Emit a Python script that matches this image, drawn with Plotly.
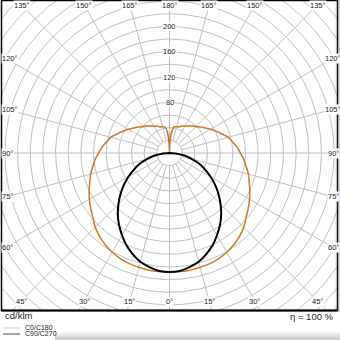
import numpy as np
import plotly.graph_objects as go

# ---- data (cd/klm) ----
c0_angles = [0, 5, 10, 15, 20, 25, 30, 35, 40, 45, 50, 55, 60, 65, 70, 75, 80, 85, 90,
             95, 100, 105, 110, 115, 120, 125, 130, 135, 140, 145, 150, 155, 160, 165,
             170, 175, 177, 179, 180]
c0_c180 = [188, 188, 188, 187, 186, 184, 181, 177, 172, 166, 158, 152, 146, 140, 134, 129,
           123, 118, 112, 107, 101, 96, 88, 81, 75, 69, 64, 59, 56, 52, 49, 47, 44, 43,
           42, 30, 18, 6, 0]
c90_angles = [0, 5, 10, 15, 20, 25, 30, 35, 40, 45, 50, 55, 60, 65, 70, 75, 80, 85, 90, 180]
c90_c270 = [188, 187, 183, 178, 170, 161, 150, 139, 127, 114, 101, 88, 75, 62, 50, 37, 25, 12, 0, 0]

radial_ticks = [80, 120, 160, 200]
angle_ticks = [0, 15, 30, 45, 60, 75, 90, 105, 120, 135, 150, 165, 180]

ORANGE = "#cc7a2e"
GRID = "#c0c0c0"
FONT = "Liberation Sans, Arial, sans-serif"

W = H = 340
PX = 0.633          # pixels per cd/klm
CX, CY = 169.5, 153  # centre in pixels
LEFT, RIGHT, TOP, BOTTOM = 1.5, 337.5, 0, 310.5


def to_xy(angles, values, side):
    a = np.radians(np.asarray(angles, float))
    v = np.asarray(values, float)
    return side * v * np.sin(a), -v * np.cos(a)


def curve(angles, values):
    xl, yl = to_xy(angles, values, -1)
    xr, yr = to_xy(angles, values, 1)
    return np.concatenate([xl, xr[::-1]]), np.concatenate([yl, yr[::-1]])


def py(p):
    return 1 - p / H


def px(p):
    return p / W


fig = go.Figure()

# grid circles
gx, gy = [], []
t = np.radians(np.linspace(0, 360, 361))
for r in range(20, 400, 20):
    gx += list(r * np.sin(t)) + [None]
    gy += list(r * np.cos(t)) + [None]
# spokes
for a in range(0, 360, 15):
    ar = np.radians(a)
    gx += [20 * np.sin(ar), 450 * np.sin(ar), None]
    gy += [-20 * np.cos(ar), -450 * np.cos(ar), None]
fig.add_trace(go.Scatter(x=gx, y=gy, mode="lines", line=dict(color=GRID, width=1),
                         hoverinfo="skip", showlegend=False))

ox, oy = curve(c0_angles, c0_c180)
fig.add_trace(go.Scatter(x=ox, y=oy, mode="lines", name="C0/C180",
                         line=dict(color=ORANGE, width=1.6, shape="spline", smoothing=0.5),
                         showlegend=False))
bx, by = curve(c90_angles, c90_c270)
fig.add_trace(go.Scatter(x=bx, y=by, mode="lines", name="C90/C270",
                         line=dict(color="black", width=2, shape="spline", smoothing=0.6),
                         showlegend=False))

ann = []
# radial labels
for r in radial_ticks:
    ann.append(dict(x=0, y=r, xref="x", yref="y", text=str(r), showarrow=False,
                    font=dict(family=FONT, size=7.5, color="#222"),
                    bgcolor="white", borderpad=0))
# angle labels at the frame
XL = 163.5 / PX
YL = 148 / PX
for a in angle_ticks:
    ar = np.radians(a)
    s, c = np.sin(ar), np.cos(ar)
    tt = min(XL / s if s > 1e-9 else 1e9, YL / abs(c) if abs(c) > 1e-9 else 1e9)
    sides = [1] if a in (0, 180) else [-1, 1]
    for sd in sides:
        item = dict(x=sd * tt * s, y=-tt * c, xref="x", yref="y",
                    text=f"{a}°", showarrow=False,
                    font=dict(family=FONT, size=7.5, color="#222"),
                    bgcolor="white", borderpad=0)
        if sd < 0 and abs(tt * s - XL) < 1e-6:
            # left edge labels: keep them inside the picture
            item.update(x=px(0.5), xref="paper", xanchor="left")
        ann.append(item)

ann.append(dict(x=px(3), y=py(315), xref="paper", yref="paper", text="cd/klm",
                xanchor="left", yanchor="middle", showarrow=False,
                font=dict(family=FONT, size=9.5, color="#222")))
ann.append(dict(x=px(336), y=py(316.5), xref="paper", yref="paper", text="η = 100 %",
                xanchor="right", yanchor="middle", showarrow=False,
                font=dict(family=FONT, size=9.5, color="#222")))
ann.append(dict(x=px(23), y=py(327), xref="paper", yref="paper", text="C0/C180",
                xanchor="left", yanchor="middle", showarrow=False,
                font=dict(family=FONT, size=7, color="#222")))
ann.append(dict(x=px(23), y=py(333.5), xref="paper", yref="paper", text="C90/C270",
                xanchor="left", yanchor="middle", showarrow=False,
                font=dict(family=FONT, size=7, color="#222")))

shapes = [
    dict(type="line", xref="paper", yref="paper", x0=px(3), x1=px(20), y0=py(328), y1=py(328),
         line=dict(color="#e2d3bd", width=1.2)),
    dict(type="line", xref="paper", yref="paper", x0=px(3), x1=px(20), y0=py(334), y1=py(334),
         line=dict(color="#666666", width=1.2)),
    # frame
    dict(type="rect", xref="paper", yref="paper", x0=px(LEFT), x1=px(RIGHT),
         y0=py(BOTTOM), y1=py(TOP + 0.5), line=dict(color="black", width=1.5)),
    dict(type="line", xref="paper", yref="paper", x0=px(LEFT), x1=px(RIGHT),
         y0=py(BOTTOM), y1=py(BOTTOM), line=dict(color="black", width=2)),
]
# scan shading on the right and bottom edges
for i, op in enumerate([0.10, 0.16, 0.22, 0.28]):
    shapes.append(dict(type="rect", xref="paper", yref="paper", layer="above",
                       x0=px(334 + i * 1.5), x1=px(340), y0=py(312), y1=py(0),
                       fillcolor=f"rgba(120,120,120,{op/2})", line=dict(width=0)))
    shapes.append(dict(type="rect", xref="paper", yref="paper", layer="above",
                       x0=px(55), x1=px(340), y0=py(340), y1=py(331 + i * 2),
                       fillcolor=f"rgba(120,120,120,{op/2})", line=dict(width=0)))

fig.update_layout(
    width=W, height=H, margin=dict(l=0, r=0, t=0, b=0),
    paper_bgcolor="white", plot_bgcolor="white",
    xaxis=dict(domain=[px(LEFT), px(RIGHT)], range=[-(CX - LEFT) / PX, (RIGHT - CX) / PX],
               showgrid=False, zeroline=False, showticklabels=False, ticks="",
               fixedrange=True),
    yaxis=dict(domain=[py(BOTTOM), py(TOP)], range=[-(BOTTOM - CY) / PX, (CY - TOP) / PX],
               showgrid=False, zeroline=False, showticklabels=False, ticks="",
               fixedrange=True),
    annotations=ann, shapes=shapes, showlegend=False,
)

fig.write_html("out.html")
